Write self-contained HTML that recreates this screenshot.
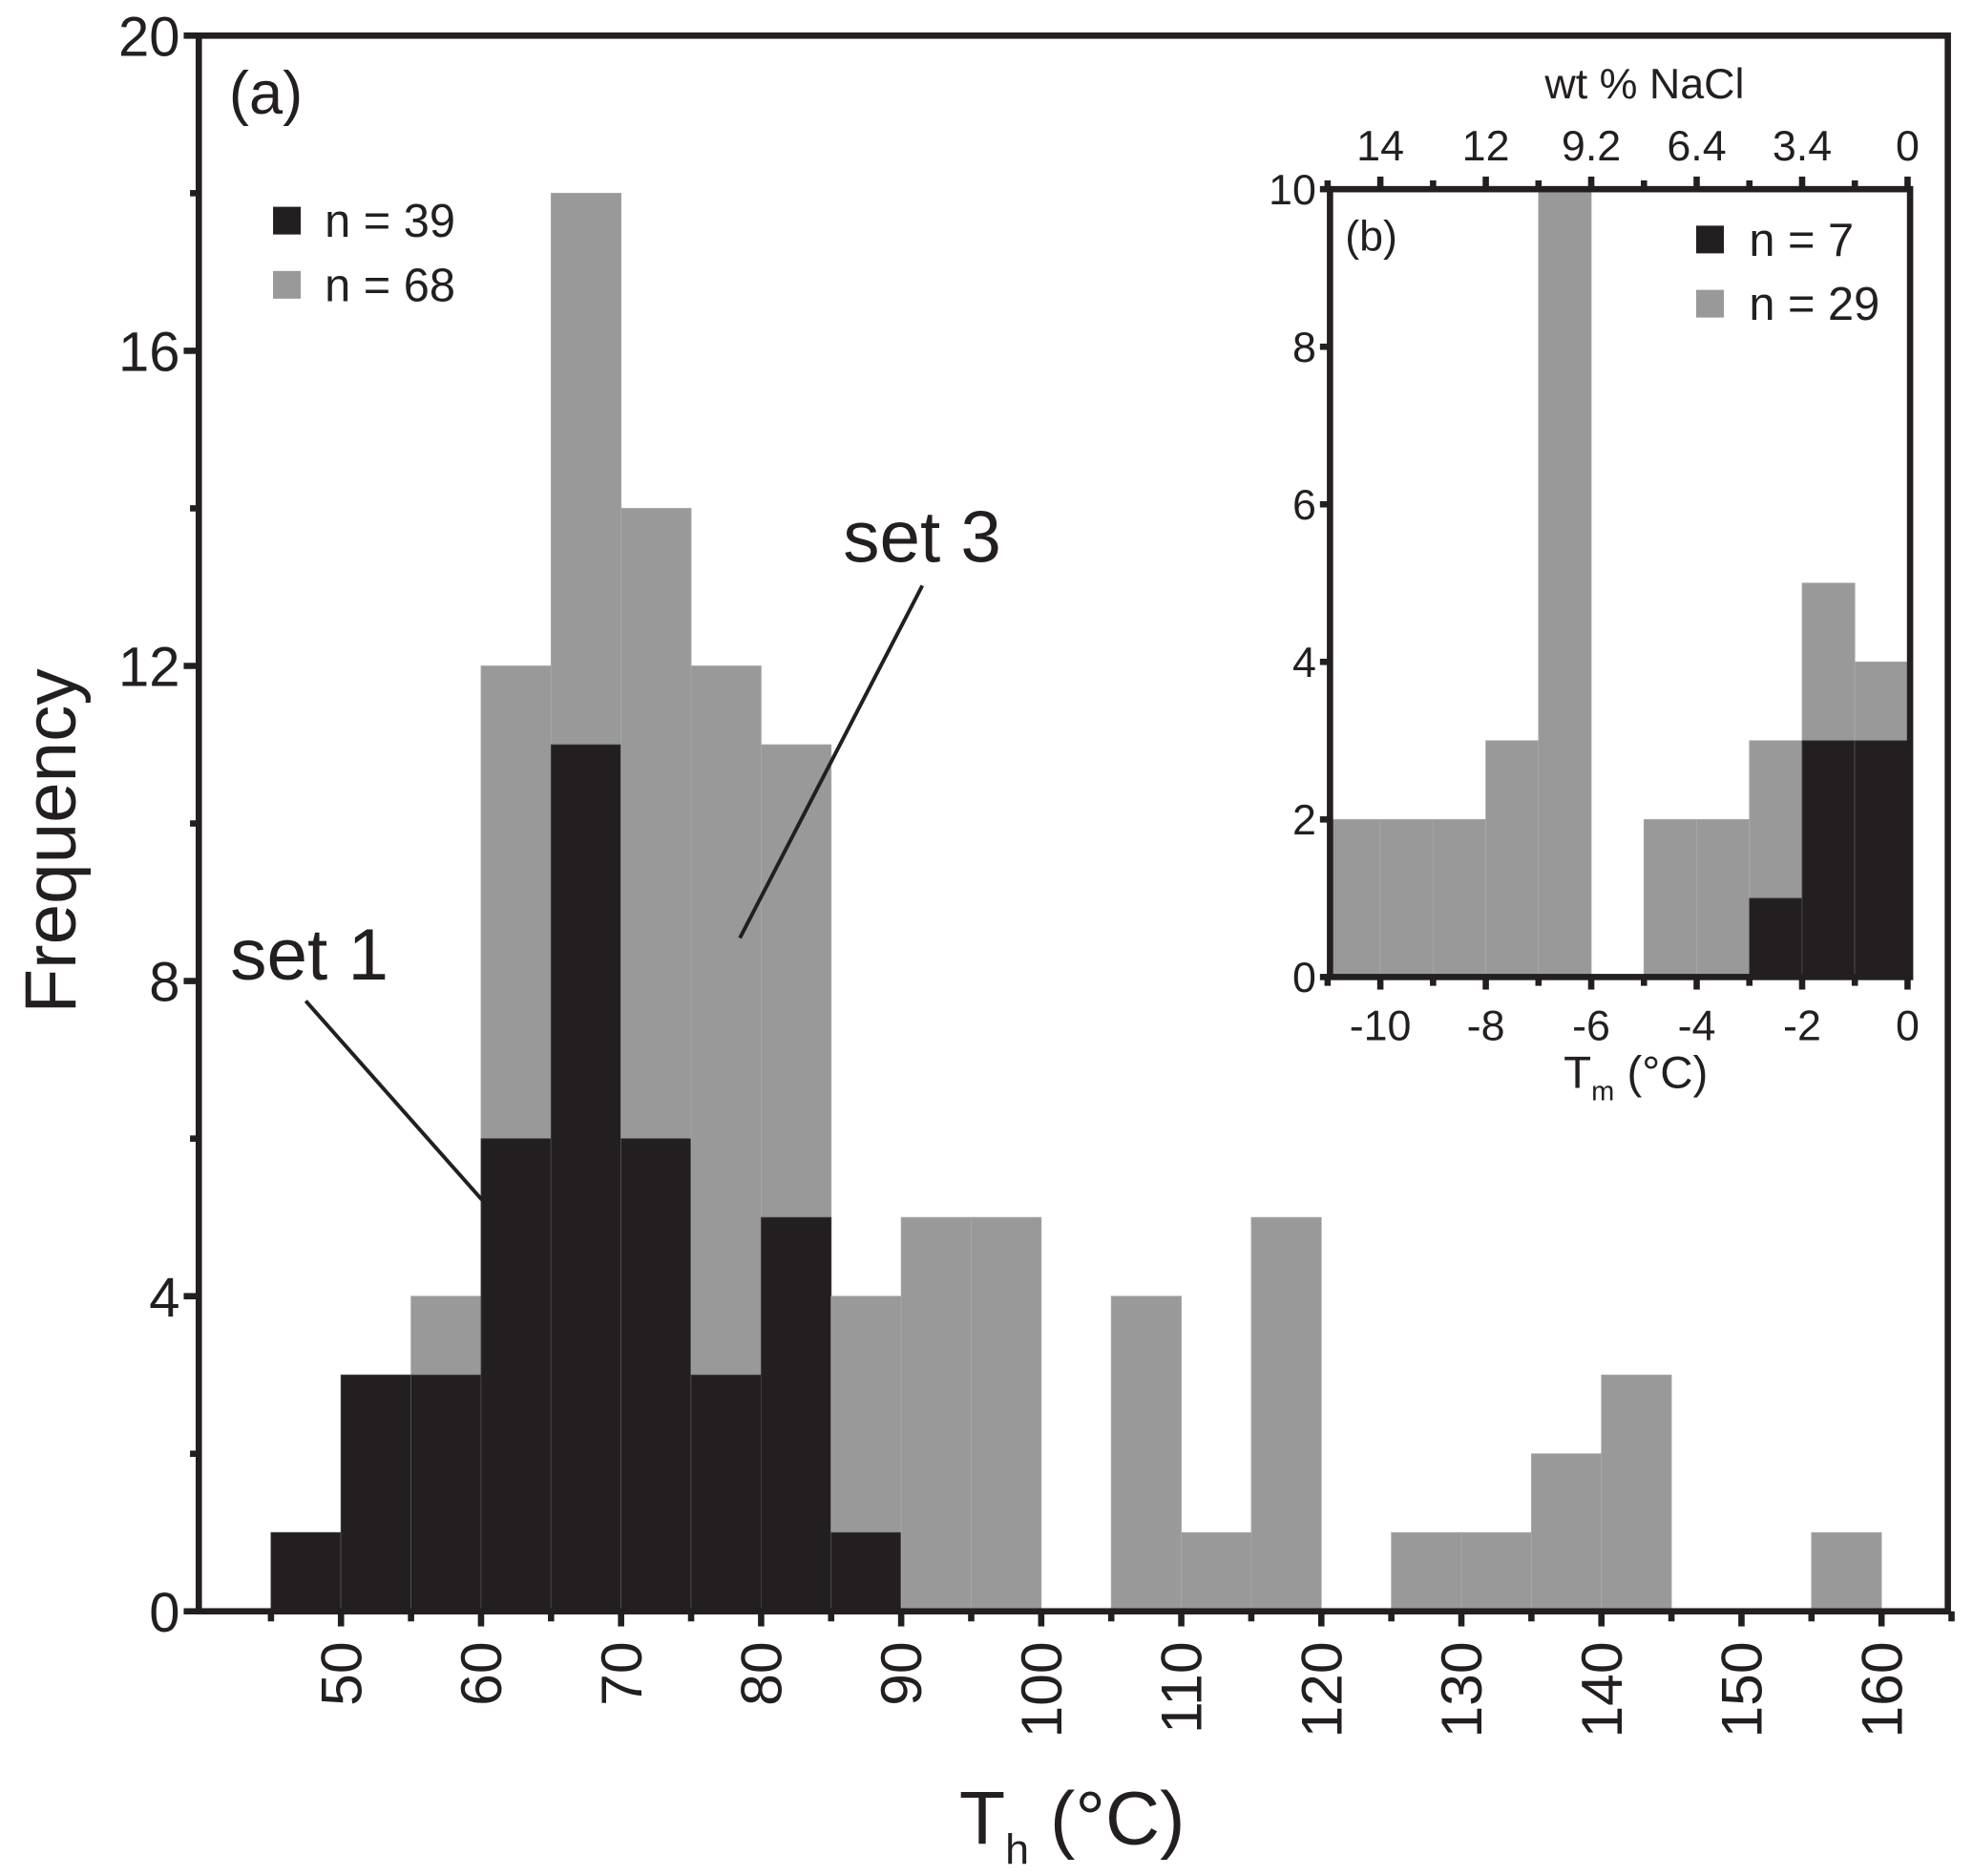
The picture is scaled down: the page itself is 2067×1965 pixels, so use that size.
<!DOCTYPE html>
<html><head><meta charset="utf-8"><style>
html,body{margin:0;padding:0;background:#fff}
svg{display:block}
text{font-family:"Liberation Sans",Arial,sans-serif;fill:#231f20}
</style></head><body>
<svg id="chart" width="2067" height="1965" viewBox="0 0 1568 1490" xmlns="http://www.w3.org/2000/svg">
<g id="main"></g>
<g id="inset"></g>
</svg>
<script>
// Main histogram (Th) data
const mainBinStarts = [45,50,55,60,65,70,75,80,85,90,95,100,105,110,115,120,125,130,135,140,145,150,155];
const mainBlack = [1,3,3,6,11,6,3,5,1,0,0,0,0,0,0,0,0,0,0,0,0,0,0];
const mainTotal = [1,3,4,12,18,14,12,11,4,5,5,0,4,1,5,0,1,1,2,3,0,0,1];
const mainYTicks = [0,4,8,12,16,20];
const mainXLabels = [50,60,70,80,90,100,110,120,130,140,150,160];
// Inset histogram (Tm) data
const insetBinStarts = [-11,-10,-9,-8,-7,-6,-5,-4,-3,-2,-1];
const insetBlack = [0,0,0,0,0,0,0,0,1,3,3];
const insetTotal = [2,2,2,3,10,0,2,2,3,5,4];
const insetYTicks = [0,2,4,6,8,10];
const insetXLabels = [-10,-8,-6,-4,-2,0];
const insetTopLabels = ["14","12","9.2","6.4","3.4","0"];

const NS="http://www.w3.org/2000/svg";
const BLACK="#231f20", GRAY="#999999";
function mk(parent,tag,attrs){const e=document.createElementNS(NS,tag);for(const k in attrs)e.setAttribute(k,attrs[k]);parent.appendChild(e);return e;}
function txt(parent,x,y,s,size,anchor,extra){const t=mk(parent,'text',Object.assign({x:x,y:y,'font-size':size,'text-anchor':anchor||'start'},extra||{}));t.textContent=s;return t;}

// ---- main ----
const M=document.getElementById('main');
const L=158,R=1548,T=28,B=1280;
const mx=v=>271+(v-50)*11.13;
const my=v=>B-v*(B-T)/20;
for(let i=0;i<mainBinStarts.length;i++){
  const x0=mx(mainBinStarts[i]),x1=mx(mainBinStarts[i]+5);
  if(mainTotal[i]>0){
    const r=mk(M,'rect',{x:x0,y:my(mainTotal[i]),width:x1-x0,height:my(0)-my(mainTotal[i]),fill:GRAY,stroke:'#aaa','stroke-width':0.6});
    
    
  }
  if(mainBlack[i]>0){
    const r=mk(M,'rect',{x:x0,y:my(mainBlack[i]),width:x1-x0,height:my(0)-my(mainBlack[i]),fill:BLACK,stroke:'#444','stroke-width':0.6});
    
    
  }
}
const frame=mk(M,'rect',{x:L,y:T,width:R-L,height:B-T,fill:'none',stroke:BLACK,'stroke-width':5});


for(let v=0;v<=20;v+=2){const major=v%4===0;mk(M,'line',{x1:L-(major?12:7),x2:L,y1:my(v),y2:my(v),stroke:BLACK,'stroke-width':5});}
mainYTicks.forEach(v=>{const t=txt(M,143,my(v)+16,String(v),44,'end');

});
for(let v=45;v<=165;v+=5){mk(M,'line',{x1:mx(v),x2:mx(v),y1:B,y2:B+(v%10===0?12:8),stroke:BLACK,'stroke-width':5});}
mainXLabels.forEach(v=>{const t=txt(M,0,0,String(v),46,'end',{transform:'translate('+(mx(v)+16)+',1304) rotate(-90)'});

});
let t=txt(M,0,0,'Frequency',58,'middle',{transform:'translate(60,668) rotate(-90)'});

t=mk(M,'text',{x:852,y:1465,'font-size':60,'text-anchor':'middle'});
t.innerHTML='T<tspan font-size="34" dy="16">h</tspan><tspan dy="-16"> (°C)</tspan>';

t=txt(M,182,90,'(a)',48);
let s=mk(M,'rect',{x:217,y:164,width:22,height:22,fill:BLACK});
t=txt(M,258,188,'n = 39',37);
s=mk(M,'rect',{x:217,y:215,width:22,height:22,fill:GRAY});
t=txt(M,258,239,'n = 68',37);
t=txt(M,183,778,'set 1',58);
let ln=mk(M,'line',{x1:243,y1:795,x2:383,y2:953,stroke:BLACK,'stroke-width':3});
t=txt(M,670,446,'set 3',58);
ln=mk(M,'line',{x1:733,y1:465,x2:588,y2:745,stroke:BLACK,'stroke-width':3});

// ---- inset ----
const I=document.getElementById('inset');
const IL=1057,IR=1518,IT=150,IB=776;
const ix=v=>1516+v*41.9;
const iy=v=>IB-v*(IB-IT)/10;
mk(I,'rect',{x:IL,y:IT,width:IR-IL,height:IB-IT,fill:'#fff'});
for(let i=0;i<insetBinStarts.length;i++){
  const x0=ix(insetBinStarts[i]),x1=ix(insetBinStarts[i]+1);
  if(insetTotal[i]>0){
    const r=mk(I,'rect',{x:x0,y:iy(insetTotal[i]),width:x1-x0,height:iy(0)-iy(insetTotal[i]),fill:GRAY,stroke:'#aaa','stroke-width':0.6});
    
    
  }
  if(insetBlack[i]>0){
    const r=mk(I,'rect',{x:x0,y:iy(insetBlack[i]),width:x1-x0,height:iy(0)-iy(insetBlack[i]),fill:BLACK,stroke:'#444','stroke-width':0.6});
    
    
  }
}
const iframe=mk(I,'rect',{x:IL,y:IT,width:IR-IL,height:IB-IT,fill:'none',stroke:BLACK,'stroke-width':5});


insetYTicks.forEach(v=>{mk(I,'line',{x1:IL-8,x2:IL,y1:iy(v),y2:iy(v),stroke:BLACK,'stroke-width':5});
const tt=txt(I,1046,iy(v)+12,String(v),34,'end');

});
for(let v=-11;v<=0;v++){mk(I,'line',{x1:ix(v),x2:ix(v),y1:IB,y2:IB+(v%2===0?10:7),stroke:BLACK,'stroke-width':5});
mk(I,'line',{x1:ix(v),x2:ix(v),y1:IT,y2:IT-(v%2===0?10:7),stroke:BLACK,'stroke-width':5});}
insetXLabels.forEach(v=>{const tt=txt(I,ix(v),826,String(v),34,'middle');

});
insetTopLabels.forEach((s2,i)=>{const tt=txt(I,ix(insetXLabels[i]),127,s2,34,'middle');

});
t=txt(I,1307,78,'wt % NaCl',34,'middle');
t=mk(I,'text',{x:1300,y:864,'font-size':36,'text-anchor':'middle'});
t.innerHTML='T<tspan font-size="22" dy="10">m</tspan><tspan dy="-10"> (°C)</tspan>';

t=txt(I,1069,199,'(b)',34);
s=mk(I,'rect',{x:1348,y:179,width:22,height:22,fill:BLACK});
t=txt(I,1390,203,'n = 7',37);
s=mk(I,'rect',{x:1348,y:230,width:22,height:22,fill:GRAY});
t=txt(I,1390,254,'n = 29',37);
</script>
</body></html>
